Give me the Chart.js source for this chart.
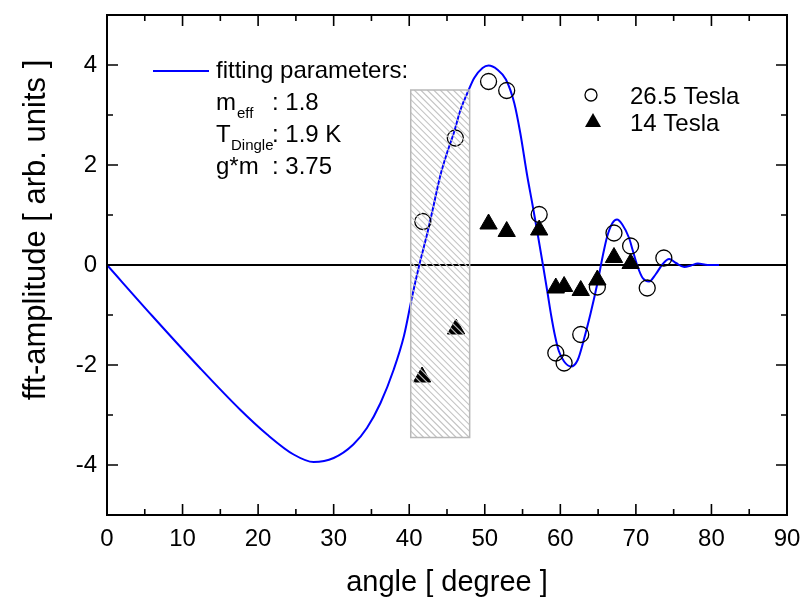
<!DOCTYPE html>
<html>
<head>
<meta charset="utf-8">
<script src="https://cdn.jsdelivr.net/npm/chart.js@4.4.1/dist/chart.umd.min.js"></script>
<style>
  html, body { margin: 0; padding: 0; background: #fff; overflow: hidden; }
  #wrap { width: 800px; height: 597px; }
</style>
</head>
<body>
<div id="wrap"><canvas id="fft"></canvas></div>
<script>
const xTicks = [0, 10, 20, 30, 40, 50, 60, 70, 80, 90];
const yTicks = [-4, -2, 0, 2, 4];

// fitted curve
const fitAngle = [0, 6, 12.3, 17.6, 21.2, 24.7, 27.35, 30.0, 32.6, 34.4, 36.2, 37.95, 39.3, 40.4, 41.3,
  42.4, 43.3, 44.1, 45.0, 45.9, 46.8, 47.7, 48.6, 49.7, 50.5, 51.65, 52.8, 53.9, 54.7, 55.6,
  56.3, 57.0, 57.7, 58.3, 58.8, 59.3, 59.8, 60.5, 61.4, 62.3, 63.1, 64.0, 64.9, 65.6, 66.2, 66.9,
  67.5, 68.2, 69.1, 69.55, 70.2, 70.9, 71.75, 72.6, 73.5, 74.4, 75.3, 76.4, 77.3, 78.2, 79.5, 81.0];
const fitAmp = [0, -1.02, -2.06, -2.89, -3.39, -3.79, -3.94, -3.86, -3.59, -3.26, -2.76, -2.09, -1.42, -0.62, -0.02,
  0.64, 1.24, 1.78, 2.24, 2.64, 3.11, 3.44, 3.74, 3.94, 3.99, 3.91, 3.71, 3.24, 2.64, 1.80,
  1.22, 0.62, 0.0, -0.55, -1.02, -1.42, -1.72, -1.93, -2.03, -1.90, -1.50, -0.97, -0.37, 0.17, 0.57, 0.84,
  0.91, 0.81, 0.54, 0.31, -0.02, -0.26, -0.33, -0.19, 0.01, 0.12, 0.04, -0.04, -0.01, 0.03, 0.00, 0.00];

// 26.5 Tesla (open circles)
const angle265 = [41.8, 46.1, 50.5, 52.9, 57.2, 59.4, 60.5, 62.7, 64.9, 67.1, 69.3, 71.5, 73.7];
const amp265 = [0.87, 2.54, 3.67, 3.49, 1.01, -1.76, -1.96, -1.39, -0.44, 0.64, 0.38, -0.46, 0.14];

// 14 Tesla (filled triangles)
const angle14 = [41.7, 46.2, 50.5, 52.9, 57.2, 59.4, 60.5, 62.7, 64.9, 67.1, 69.3];
const amp14 = [-2.24, -1.28, 0.82, 0.67, 0.70, -0.46, -0.43, -0.51, -0.30, 0.15, 0.03];

const zeroLine = [0, 90];
const hatchAngle = [40.2, 48.0];
const hatchAmp = [-3.45, 3.5];

const FONT = '"Liberation Sans", Arial, sans-serif';

const toPts = (xs, ys) => xs.map((v, i) => ({x: v, y: ys[i]}));

// chart.js adds half a label + tick padding around the axes; drop that, the layout padding does the job
const noEdgePad = s => { s.paddingLeft = 0; s.paddingRight = 0; s.paddingTop = 0; s.paddingBottom = 0; };

// frame with inward ticks, hatched box, legends and axis titles
const decor = {
  id: 'decor',
  afterDatasetsDraw(chart) {
    const {ctx, chartArea: a, scales: {x, y}} = chart;
    ctx.save();

    const l = x.getPixelForValue(hatchAngle[0]), r = x.getPixelForValue(hatchAngle[1]);
    const t = y.getPixelForValue(hatchAmp[1]), b = y.getPixelForValue(hatchAmp[0]);
    ctx.beginPath();
    ctx.rect(l, t, r - l, b - t);
    ctx.clip();
    ctx.strokeStyle = '#c4c4c4';
    ctx.lineWidth = 1.2;
    ctx.beginPath();
    for (let k = -(b - t); k < r - l; k += 6.5) {
      ctx.moveTo(l + k, t);
      ctx.lineTo(l + k + (b - t), b);
    }
    ctx.stroke();
    ctx.restore();
    ctx.save();
    ctx.strokeStyle = '#b8b8b8';
    ctx.lineWidth = 1.5;
    ctx.strokeRect(l, t, r - l, b - t);

    // ticks
    ctx.strokeStyle = '#000';
    ctx.lineWidth = 1.6;
    ctx.beginPath();
    for (let v = 5; v < 90; v += 5) {
      const px = x.getPixelForValue(v);
      const len = xTicks.includes(v) ? 11 : 6;
      ctx.moveTo(px, a.bottom); ctx.lineTo(px, a.bottom - len);
      ctx.moveTo(px, a.top); ctx.lineTo(px, a.top + len);
    }
    for (let v = -4; v < 5; v += 1) {
      const py = y.getPixelForValue(v);
      const len = yTicks.includes(v) ? 11 : 6;
      ctx.moveTo(a.left, py); ctx.lineTo(a.left + len, py);
      ctx.moveTo(a.right, py); ctx.lineTo(a.right - len, py);
    }
    ctx.stroke();
    ctx.lineWidth = 2;
    ctx.strokeRect(a.left, a.top, a.right - a.left, a.bottom - a.top);

    // left legend
    ctx.fillStyle = '#000';
    ctx.textBaseline = 'alphabetic';
    ctx.textAlign = 'left';
    ctx.strokeStyle = '#0000ff';
    ctx.lineWidth = 2;
    ctx.beginPath(); ctx.moveTo(153, 71); ctx.lineTo(209, 71); ctx.stroke();
    ctx.font = '24px ' + FONT;
    ctx.fillText('fitting parameters:', 216, 78);
    ctx.fillText('m', 216, 110);
    ctx.fillText(': 1.8', 272, 110);
    ctx.fillText('T', 216, 142);
    ctx.fillText(': 1.9 K', 272, 142);
    ctx.fillText('g*m', 216, 174);
    ctx.fillText(': 3.75', 272, 174);
    ctx.font = '15px ' + FONT;
    ctx.fillText('eff', 237, 118);
    ctx.fillText('Dingle', 231, 150);

    // right legend
    ctx.strokeStyle = '#000';
    ctx.lineWidth = 1.3;
    ctx.beginPath(); ctx.arc(591, 95, 6, 0, Math.PI * 2); ctx.stroke();
    ctx.beginPath();
    ctx.moveTo(593, 113); ctx.lineTo(601, 127); ctx.lineTo(585, 127); ctx.closePath();
    ctx.fill();
    ctx.font = '24px ' + FONT;
    ctx.fillText('26.5 Tesla', 630, 104);
    ctx.fillText('14 Tesla', 630, 131);

    // axis titles
    ctx.font = '29px ' + FONT;
    ctx.textAlign = 'center';
    ctx.fillText('angle [ degree ]', (a.left + a.right) / 2, 591);
    ctx.font = '31px ' + FONT;
    ctx.translate(45, 230);
    ctx.rotate(-Math.PI / 2);
    ctx.fillText('fft-amplitude [ arb. units ]', 0, 0);
    ctx.restore();
  }
};

new Chart(document.getElementById('fft'), {
  type: 'scatter',
  data: {
    datasets: [
      {
        label: '14 Tesla',
        data: toPts(angle14, amp14),
        pointStyle: 'triangle',
        pointRadius: 10,
        backgroundColor: '#000',
        borderColor: '#000',
        borderWidth: 1
      },
      {
        label: '26.5 Tesla',
        data: toPts(angle265, amp265),
        pointStyle: 'circle',
        pointRadius: 8,
        backgroundColor: 'rgba(0,0,0,0)',
        borderColor: '#000',
        borderWidth: 1.3
      },
      {
        label: 'fit',
        data: toPts(fitAngle, fitAmp),
        showLine: true,
        pointRadius: 0,
        borderColor: '#0000ff',
        borderWidth: 2,
        cubicInterpolationMode: 'monotone'
      },
      {
        label: 'zero',
        data: toPts(zeroLine, [0, 0]),
        showLine: true,
        pointRadius: 0,
        borderColor: '#000',
        borderWidth: 2
      }
    ]
  },
  options: {
    responsive: true,
    maintainAspectRatio: false,
    animation: false,
    devicePixelRatio: 1,
    layout: { padding: { top: 15, right: 13, left: 0, bottom: 0 } },
    plugins: { legend: { display: false }, tooltip: { enabled: false } },
    scales: {
      x: {
        min: 0, max: 90,
        afterBuildTicks: s => { s.ticks = xTicks.map(v => ({value: v})); },
        afterFit: s => { s.height = 82; noEdgePad(s); },
        grid: { display: false, drawTicks: false },
        border: { display: false },
        ticks: { color: '#000', padding: 10, maxRotation: 0, font: { family: FONT, size: 24 } }
      },
      y: {
        min: -5, max: 5,
        afterBuildTicks: s => { s.ticks = yTicks.map(v => ({value: v})); },
        afterFit: s => { s.width = 107; noEdgePad(s); },
        grid: { display: false, drawTicks: false },
        border: { display: false },
        ticks: { color: '#000', padding: 10, font: { family: FONT, size: 24 } }
      }
    }
  },
  plugins: [decor]
});
</script>
</body>
</html>
